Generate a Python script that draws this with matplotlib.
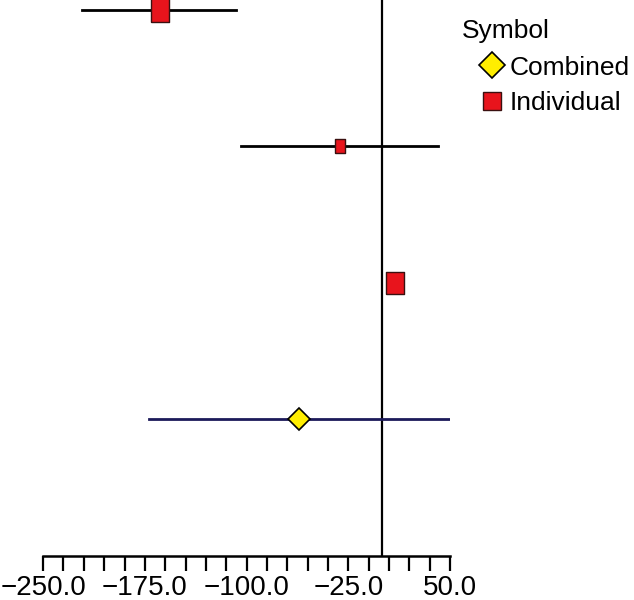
import matplotlib.pyplot as plt
from matplotlib.lines import Line2D

plt.rcParams["font.family"] = ["Liberation Sans", "DejaVu Sans"]

# forest plot rows, top to bottom
row_pos = [4, 3, 2, 1]
estimates = [-164.0, -31.0, 9.5, -61.5]
ci_low = [-221.5, -104.0, 3.5, -172.0]
ci_high = [-108.0, 41.0, 12.0, 49.0]
weights = [1.0, 0.6, 0.95, 1.0]
kinds = ["Individual", "Individual", "Individual", "Combined"]

x_ticks = [-250.0, -175.0, -100.0, -25.0, 50.0]

fig = plt.figure(figsize=(6.34, 6.0), dpi=100)
ax = fig.add_axes([0.068, 0.0733, 0.642, 0.9267])

rect = [(-0.38, -0.5), (0.38, -0.5), (0.38, 0.5), (-0.38, 0.5), (-0.38, -0.5)]

ax.axvline(0, color="black", lw=1.6, zorder=1)

for y, est, lo, hi, w, k in zip(row_pos, estimates, ci_low, ci_high, weights, kinds):
    if k == "Combined":
        ax.plot([lo, hi], [y, y], color="#1c1a5a", lw=2.0, zorder=2)
        ax.plot(est, y, marker="D", ms=11, mfc="#ffee00", mec="black", mew=1.2, zorder=3)
    else:
        ax.plot([lo, hi], [y, y], color="black", lw=2.0, zorder=2)
        ax.plot(est, y, marker=rect, ms=17 * w, mfc="#e8141c", mec="#3a1010", mew=1.0, zorder=3)

ax.set_xlim(-250, 50)
ax.set_ylim(0, 4.07)
ax.set_xticks(x_ticks)
ax.set_xticklabels([f"{t:.1f}".replace("-", "\u2212") for t in x_ticks], fontsize=20)
ax.set_xticks(range(-250, 51, 15), minor=True)
ax.tick_params(axis="x", which="both", direction="out", length=11, width=1.6, pad=3)
ax.set_yticks([])
for side in ["left", "right", "top"]:
    ax.spines[side].set_visible(False)
ax.spines["bottom"].set_linewidth(1.8)

handles = [
    Line2D([], [], ls="none", marker="D", ms=13, mfc="#ffee00", mec="black", mew=1.2),
    Line2D([], [], ls="none", marker="s", ms=13, mfc="#e8141c", mec="#3a1010", mew=1.0),
]
fig.text(0.729, 0.948, "Symbol", fontsize=19, ha="left", va="center")
leg = fig.legend(handles, ["Combined", "Individual"],
                 loc="upper left", bbox_to_anchor=(0.717, 0.947),
                 frameon=False, fontsize=19,
                 handlelength=1.0, handletextpad=0.2, labelspacing=0.45)

fig.savefig("out.png", dpi=100)
